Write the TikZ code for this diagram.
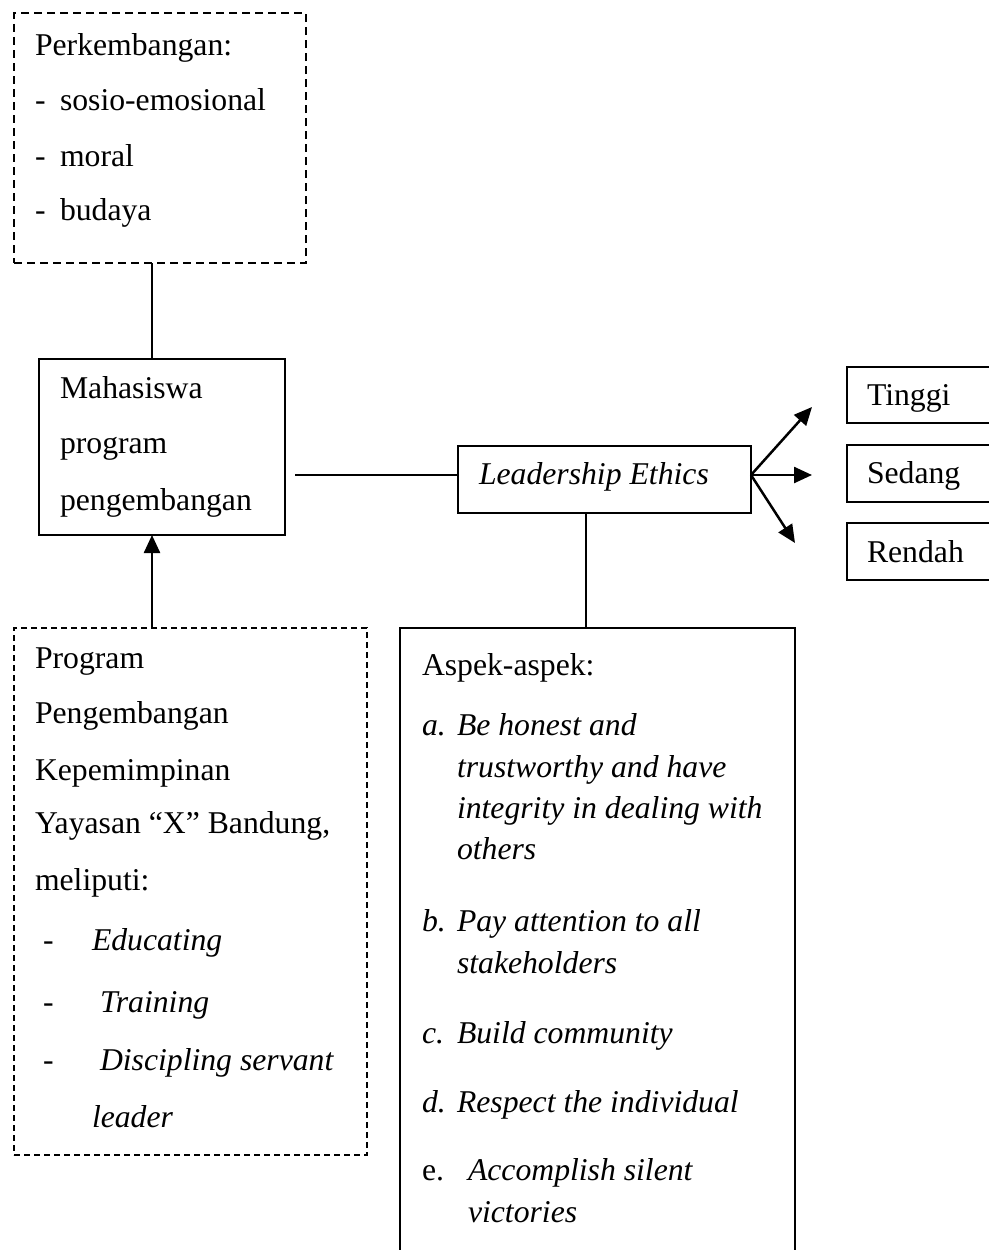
\documentclass[tikz,border=0pt]{standalone}
\usepackage{fontspec}
\setmainfont{Liberation Serif}
\usetikzlibrary{arrows.meta,calc}
\newcommand{\bigfs}{\fontsize{31.7}{38}\selectfont}
\begin{document}
\begin{tikzpicture}[x=1pt,y=1pt,
  every node/.style={font=\bigfs},
  box/.style={draw,line width=2pt,rectangle,inner sep=0pt,outer sep=0pt,anchor=north west},
  dbox/.style={box,dashed,line width=2.3pt,dash pattern=on 8pt off 5pt},
  fbox/.style={box,dashed,line width=1.5pt,dash pattern=on 6pt off 4pt},
  txt/.style={anchor=base west,inner sep=0pt,outer sep=0pt},
  itxt/.style={txt,font=\bigfs\itshape},
  conn/.style={line width=2pt},
  arr/.style={line width=2.5pt,-{Triangle[length=18pt,width=16pt]}}]
\useasboundingbox (0,0) rectangle (988,-1250);
% boxes
\node[dbox,minimum width=292pt,minimum height=250pt] (perk) at (14,-13) {};
\node[box,minimum width=246pt,minimum height=176pt] (mhs) at (39,-359) {};
\node[box,minimum width=293pt,minimum height=67pt] (le) at (458,-446) {};
\node[box,minimum width=170pt,minimum height=56pt] (tinggi) at (847,-367) {};
\node[box,minimum width=170pt,minimum height=57pt] (sedang) at (847,-445) {};
\node[box,minimum width=170pt,minimum height=57pt] (rendah) at (847,-523) {};
\node[fbox,minimum width=353pt,minimum height=527pt] (prog) at (14,-628) {};
\node[box,minimum width=395pt,minimum height=660pt] (asp) at (400,-628) {};
% texts: perkembangan
\node[txt] (p1) at (35,-55) {Perkembangan:};
\node[txt] (p2d) at (35,-110) {-};
\node[txt] (p2) at (60,-110) {sosio-emosional};
\node[txt] (p3d) at (35,-166) {-};
\node[txt] (p3) at (60,-166) {moral};
\node[txt] (p4d) at (35,-220) {-};
\node[txt] (p4) at (60,-220) {budaya};
% mahasiswa
\node[txt] (m1) at (60,-398) {Mahasiswa};
\node[txt] (m2) at (60,-453) {program};
\node[txt] (m3) at (60,-510) {pengembangan};
% leadership ethics
\node[itxt] (let) at (479,-484) {Leadership Ethics};
% levels
\node[txt] (tt) at (867,-405) {Tinggi};
\node[txt] (st) at (867,-483) {Sedang};
\node[txt] (rt) at (867,-562) {Rendah};
% program
\node[txt] (g1) at (35,-668) {Program};
\node[txt] (g2) at (35,-723) {Pengembangan};
\node[txt] (g3) at (35,-780) {Kepemimpinan};
\node[txt] (g4) at (35,-833) {Yayasan “X” Bandung,};
\node[txt] (g5) at (35,-890) {meliputi:};
\node[txt] (g6d) at (43,-950) {-};
\node[itxt] (g6) at (92,-950) {Educating};
\node[txt] (g7d) at (43,-1012) {-};
\node[itxt] (g7) at (100,-1012) {Training};
\node[txt] (g8d) at (43,-1070) {-};
\node[itxt] (g8) at (100,-1070) {Discipling servant};
\node[itxt] (g9) at (92,-1127) {leader};
% aspek
\node[txt] (a0) at (422,-675) {Aspek-aspek:};
\node[itxt] (aa) at (422,-735) {a.};
\node[itxt] (a1) at (457,-735) {Be honest and};
\node[itxt] (a2) at (457,-777) {trustworthy and have};
\node[itxt] (a3) at (457,-818) {integrity in dealing with};
\node[itxt] (a4) at (457,-859) {others};
\node[itxt] (ab) at (422,-931) {b.};
\node[itxt] (b1) at (457,-931) {Pay attention to all};
\node[itxt] (b2) at (457,-973) {stakeholders};
\node[itxt] (ac) at (422,-1043) {c.};
\node[itxt] (c1) at (457,-1043) {Build community};
\node[itxt] (ad) at (422,-1112) {d.};
\node[itxt] (d1) at (457,-1112) {Respect the individual};
\node[txt] (ae) at (422,-1180) {e.};
\node[itxt] (e1) at (468,-1180) {Accomplish silent};
\node[itxt] (e2) at (468,-1222) {victories};
% connector guides
\coordinate (colA) at (152,0);
\coordinate (colB) at (586,0);
\coordinate (rowB) at (0,-475);
\coordinate (t1) at (812,-407);
\coordinate (t2) at (812,-475);
\coordinate (t3) at (795,-543);
% connectors
\draw[conn] (colA |- perk.south) -- (colA |- mhs.north);
\draw[arr] (colA |- prog.north) -- (colA |- mhs.south);
\draw[conn,shorten <=10pt] (mhs.east |- rowB) -- (le.west |- rowB);
\draw[conn] (colB |- le.south) -- (colB |- asp.north);
\draw[arr] (le.east |- rowB) -- (t1);
\draw[arr] (le.east |- rowB) -- (t2);
\draw[arr] (le.east |- rowB) -- (t3);
\end{tikzpicture}
\end{document}
